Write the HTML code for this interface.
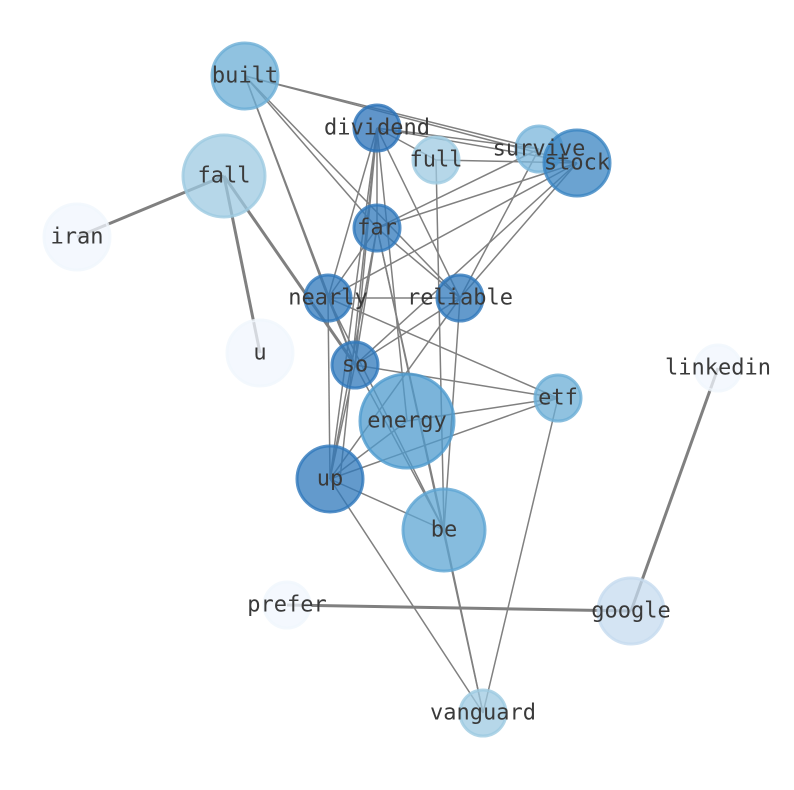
<!DOCTYPE html>
<html><head><meta charset="utf-8"><style>body{margin:0;background:#fff}svg{display:block}</style></head><body>
<svg width="794" height="790" xmlns="http://www.w3.org/2000/svg">
<g stroke="#808080" stroke-width="1.5" fill="none">
<line x1="245" y1="76" x2="539" y2="149"/><line x1="245" y1="76" x2="577" y2="163"/>
<line x1="245" y1="76" x2="328" y2="298"/><line x1="245" y1="76" x2="377" y2="228"/>
<line x1="245" y1="76" x2="460" y2="298"/><line x1="245" y1="76" x2="355" y2="365"/>
<line x1="377" y1="128" x2="539" y2="149"/><line x1="377" y1="128" x2="577" y2="163"/>
<line x1="377" y1="128" x2="436" y2="160"/><line x1="377" y1="128" x2="377" y2="228"/>
<line x1="377" y1="128" x2="328" y2="298"/><line x1="377" y1="128" x2="355" y2="365"/>
<line x1="377" y1="128" x2="330" y2="479"/><line x1="377" y1="128" x2="460" y2="298"/>
<line x1="377" y1="128" x2="407" y2="421"/><line x1="377" y1="128" x2="340" y2="479"/>
<line x1="436" y1="160" x2="577" y2="163"/><line x1="436" y1="160" x2="444" y2="530"/>
<line x1="539" y1="149" x2="377" y2="228"/><line x1="577" y1="163" x2="377" y2="228"/>
<line x1="577" y1="163" x2="328" y2="298"/><line x1="577" y1="163" x2="460" y2="298"/>
<line x1="539" y1="149" x2="460" y2="298"/><line x1="577" y1="163" x2="355" y2="365"/>
<line x1="377" y1="228" x2="460" y2="298"/><line x1="377" y1="228" x2="355" y2="365"/>
<line x1="377" y1="228" x2="330" y2="479"/><line x1="377" y1="228" x2="444" y2="530"/>
<line x1="377" y1="228" x2="328" y2="298"/><line x1="377" y1="228" x2="483" y2="713"/>
<line x1="328" y1="298" x2="460" y2="298"/><line x1="328" y1="298" x2="558" y2="398"/>
<line x1="328" y1="298" x2="355" y2="365"/><line x1="328" y1="298" x2="330" y2="479"/>
<line x1="328" y1="298" x2="444" y2="530"/>
<line x1="460" y1="298" x2="355" y2="365"/><line x1="460" y1="298" x2="330" y2="479"/>
<line x1="460" y1="298" x2="444" y2="530"/>
<line x1="355" y1="365" x2="558" y2="398"/><line x1="355" y1="365" x2="444" y2="530"/>
<line x1="355" y1="365" x2="330" y2="479"/>
<line x1="407" y1="421" x2="558" y2="398"/><line x1="407" y1="421" x2="330" y2="479"/>
<line x1="330" y1="479" x2="558" y2="398"/><line x1="330" y1="479" x2="444" y2="530"/>
<line x1="330" y1="479" x2="483" y2="713"/><line x1="444" y1="530" x2="483" y2="713"/>
<line x1="558" y1="398" x2="483" y2="713"/>
</g>
<g stroke="#808080" stroke-width="3" fill="none">
<line x1="224" y1="176" x2="77" y2="237"/><line x1="224" y1="176" x2="260" y2="353"/>
<line x1="224" y1="176" x2="355" y2="365"/>
<line x1="287" y1="605" x2="631" y2="611"/><line x1="631" y1="611" x2="718" y2="368"/>
</g>
<g stroke-width="3" stroke-opacity="0.8" fill-opacity="0.75">
<circle cx="245" cy="76" r="33" fill="#6baed6" stroke="#6baed6"/>
<circle cx="224" cy="176" r="41" fill="#9ecae1" stroke="#9ecae1"/>
<circle cx="77" cy="237" r="33" fill="#f0f6fd" stroke="#f0f6fd"/>
<circle cx="260" cy="353" r="33" fill="#f0f6fd" stroke="#f0f6fd"/>
<circle cx="718" cy="368" r="23" fill="#f0f6fd" stroke="#f0f6fd"/>
<circle cx="287" cy="605" r="23" fill="#f0f6fd" stroke="#f0f6fd"/>
<circle cx="631" cy="611" r="33" fill="#c6dbef" stroke="#c6dbef"/>
<circle cx="377" cy="128" r="23" fill="#2b72b8" stroke="#2b72b8"/>
<circle cx="436" cy="160" r="23" fill="#9ecae1" stroke="#9ecae1"/>
<circle cx="539" cy="149" r="23" fill="#7ab6db" stroke="#7ab6db"/>
<circle cx="577" cy="163" r="33" fill="#3a84c2" stroke="#3a84c2"/>
<circle cx="377" cy="228" r="23" fill="#2f78bb" stroke="#2f78bb"/>
<circle cx="328" cy="298" r="23" fill="#2f78bb" stroke="#2f78bb"/>
<circle cx="460" cy="298" r="23" fill="#2f78bb" stroke="#2f78bb"/>
<circle cx="355" cy="365" r="23" fill="#2f78bb" stroke="#2f78bb"/>
<circle cx="558" cy="398" r="23" fill="#6baed6" stroke="#6baed6"/>
<circle cx="407" cy="421" r="47" fill="#4f9bce" stroke="#4f9bce"/>
<circle cx="330" cy="479" r="33" fill="#2f78bb" stroke="#2f78bb"/>
<circle cx="444" cy="530" r="41" fill="#5ea5d3" stroke="#5ea5d3"/>
<circle cx="483" cy="713" r="23" fill="#9ecae1" stroke="#9ecae1"/>
</g>
<g font-family="'DejaVu Sans Mono','Liberation Mono',monospace" font-size="22" fill="#3a3a3a" text-anchor="middle" dominant-baseline="central">
<text x="245" y="76">built</text><text x="377" y="128">dividend</text><text x="436" y="160">full</text>
<text x="539" y="149">survive</text><text x="577" y="163">stock</text><text x="224" y="176">fall</text>
<text x="77" y="237">iran</text><text x="377" y="228">far</text><text x="328" y="298">nearly</text>
<text x="460" y="298">reliable</text><text x="260" y="353">u</text><text x="355" y="365">so</text>
<text x="718" y="368">linkedin</text><text x="558" y="398">etf</text><text x="407" y="421">energy</text>
<text x="330" y="479">up</text><text x="444" y="530">be</text><text x="287" y="605">prefer</text>
<text x="631" y="611">google</text><text x="483" y="713">vanguard</text>
</g>
</svg>
</body></html>
